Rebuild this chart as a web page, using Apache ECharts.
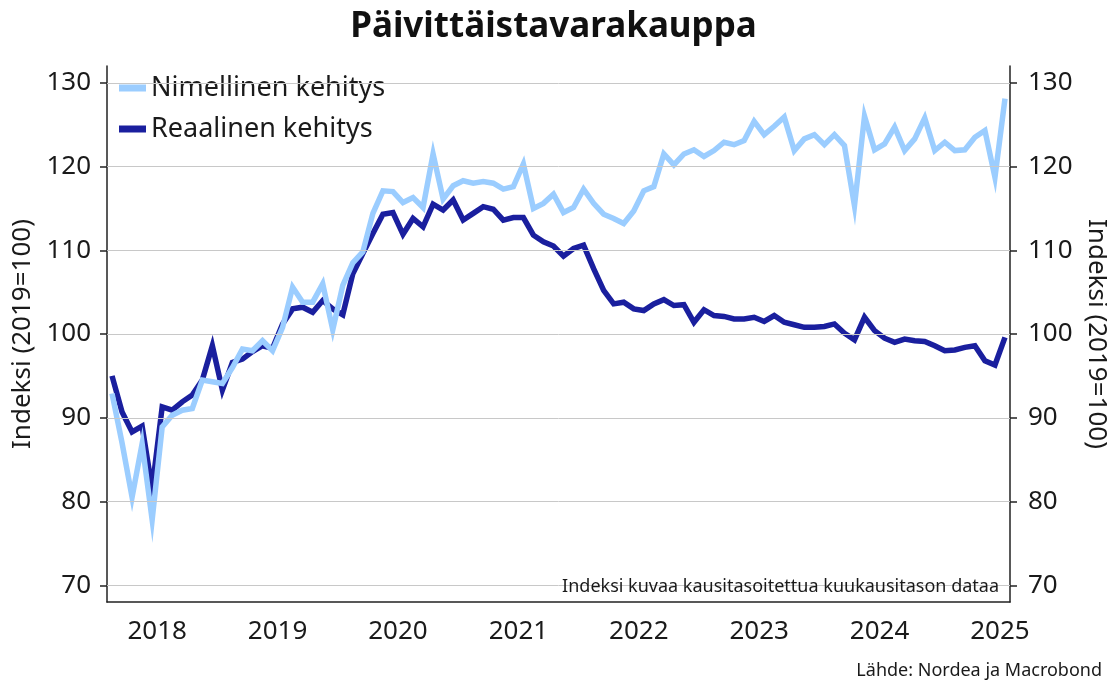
<!DOCTYPE html>
<html>
<head>
<meta charset="utf-8">
<title>Päivittäistavarakauppa</title>
<script src="https://cdn.jsdelivr.net/npm/echarts@6/dist/echarts.min.js"></script>
<style>
  html, body { margin: 0; padding: 0; background: #fff; }
  #chart { width: 1107px; height: 683px; }
</style>
</head>
<body>
<div id="chart"></div>
<script>
// kuukaudet 2018-02 ... 2025-07
const startYear = 2018
const startMonth = 2
const monthCount = 90
const months = []
for (let i = 0; i < monthCount; i++) {
  const m = startMonth - 1 + i
  months.push((startYear + Math.floor(m / 12)) + '-' + String(m % 12 + 1).padStart(2, '0'))
}

// Nimellinen kehitys (indeksi 2019=100)
const nominal = [
  92.9, 87.0, 80.5, 86.9, 77.8, 88.9, 90.3, 90.9, 91.1, 94.5, 94.3,
  94.1, 96.0, 98.2, 98.0, 99.2, 98.0, 100.8, 105.6, 103.8, 103.8, 106.0, 100.5,
  105.8, 108.5, 109.8, 114.4, 117.1, 117.0, 115.7, 116.3, 115.1, 121.5, 116.1, 117.7,
  118.3, 118.0, 118.2, 118.0, 117.3, 117.6, 120.3, 115.0, 115.6, 116.7, 114.5, 115.1,
  117.3, 115.6, 114.3, 113.8, 113.2, 114.7, 117.1, 117.6, 121.5, 120.2, 121.5, 122.0,
  121.2, 121.9, 122.9, 122.6, 123.1, 125.4, 123.8, 124.8, 125.9, 121.9, 123.3, 123.8,
  122.6, 123.8, 122.5, 115.3, 126.0, 122.0, 122.7, 124.7, 121.9, 123.3, 125.8, 121.9,
  122.9, 121.9, 122.0, 123.5, 124.3, 118.7, 128.1
]

// Reaalinen kehitys (indeksi 2019=100)
const real = [
  95.0, 90.7, 88.3, 89.0, 81.5, 91.3, 90.9, 91.9, 92.7, 94.5, 98.6,
  93.3, 96.6, 97.0, 97.9, 98.6, 98.3, 101.2, 103.0, 103.2, 102.6, 104.0, 103.0,
  102.3, 107.2, 109.6, 112.0, 114.3, 114.5, 111.9, 113.8, 112.8, 115.5, 114.8, 116.0,
  113.6, 114.4, 115.2, 114.9, 113.6, 113.9, 113.9, 111.8, 111.0, 110.5, 109.3, 110.2,
  110.6, 107.8, 105.2, 103.6, 103.8, 103.0, 102.8, 103.6, 104.1, 103.4, 103.5, 101.4,
  102.9, 102.2, 102.1, 101.8, 101.8, 102.0, 101.5, 102.2, 101.4, 101.1, 100.8, 100.8,
  100.9, 101.2, 100.1, 99.3, 102.0, 100.4, 99.5, 99.0, 99.4, 99.2, 99.1, 98.6,
  98.0, 98.1, 98.4, 98.6, 96.8, 96.3, 99.6
]

const yTicks = [70, 80, 90, 100, 110, 120, 130]

const lightBlue = '#9bcdff'
const darkBlue = '#1a1f9e'
const axisColor = '#222222'
const textColor = '#1a1a1a'
const fontFamily = 'Noto Sans'

function yAxisFor(position) {
  const left = position === 'left'
  return {
    type: 'value',
    position: position,
    min: 68,
    max: 132,
    name: 'Indeksi (2019=100)',
    nameLocation: 'middle',
    nameRotate: left ? 90 : -90,
    nameGap: left ? 64 : 66,
    nameTextStyle: { fontSize: 26, color: textColor, fontFamily: fontFamily },
    axisLine: { show: true, lineStyle: { color: axisColor, width: 1.5 } },
    axisTick: { show: true, customValues: yTicks, length: 7, lineStyle: { color: axisColor, width: 1.5 } },
    axisLabel: { customValues: yTicks, fontSize: 26, color: textColor, margin: left ? 16 : 18, fontFamily: fontFamily },
    splitLine: { show: false }
  }
}

const chart = echarts.init(document.getElementById('chart'))
const option = {
  animation: false,
  textStyle: { fontFamily: fontFamily },
  title: {
    text: 'Päivittäistavarakauppa',
    left: 'center',
    top: 5,
    textStyle: { fontSize: 35, fontWeight: 'bold', color: '#111', fontFamily: fontFamily }
  },
  legend: {
    orient: 'vertical',
    left: 114,
    top: 69,
    icon: 'rect',
    itemWidth: 27,
    itemHeight: 7,
    itemGap: 13,
    textStyle: { fontSize: 27, lineHeight: 28, color: textColor, fontFamily: fontFamily },
    data: ['Nimellinen kehitys', 'Reaalinen kehitys']
  },
  grid: { left: 107, right: 97, top: 66, bottom: 81, outerBoundsMode: 'none', containLabel: false },
  xAxis: {
    type: 'category',
    data: months,
    boundaryGap: true,
    axisLine: { lineStyle: { color: axisColor, width: 1.5 } },
    axisTick: {
      interval: (i, v) => v.endsWith('-01'),
      length: 8,
      lineStyle: { color: axisColor, width: 1.5 }
    },
    axisLabel: {
      interval: (i, v) => v.endsWith('-07'),
      formatter: v => v.slice(0, 4),
      fontSize: 26,
      color: textColor,
      margin: 17,
      padding: [0, 10, 0, 0]
    },
    splitLine: { show: false }
  },
  yAxis: [yAxisFor('left'), yAxisFor('right')],
  graphic: [
    {
      type: 'text',
      right: 108,
      top: 578,
      z: 10,
      style: { text: 'Indeksi kuvaa kausitasoitettua kuukausitason dataa', font: '18px "Noto Sans"', fill: textColor }
    },
    {
      type: 'text',
      right: 5,
      top: 662,
      style: { text: 'Lähde: Nordea ja Macrobond', font: '18px "Noto Sans"', fill: textColor }
    }
  ],
  series: [
    {
      // vaakaviivat
      type: 'line',
      data: [],
      silent: true,
      z: 1,
      markLine: {
        silent: true,
        symbol: ['none', 'none'],
        label: { show: false },
        lineStyle: { color: '#c8c8c8', width: 1, type: 'solid' },
        data: yTicks.map(v => ({ yAxis: v }))
      }
    },
    {
      name: 'Reaalinen kehitys',
      type: 'line',
      data: real,
      symbol: 'none',
      z: 3,
      lineStyle: { width: 5.5, color: darkBlue, join: 'miter' },
      itemStyle: { color: darkBlue }
    },
    {
      name: 'Nimellinen kehitys',
      type: 'line',
      data: nominal,
      symbol: 'none',
      z: 4,
      lineStyle: { width: 5.5, color: lightBlue, join: 'miter' },
      itemStyle: { color: lightBlue }
    }
  ]
}

option && chart.setOption(option)
</script>
</body>
</html>
